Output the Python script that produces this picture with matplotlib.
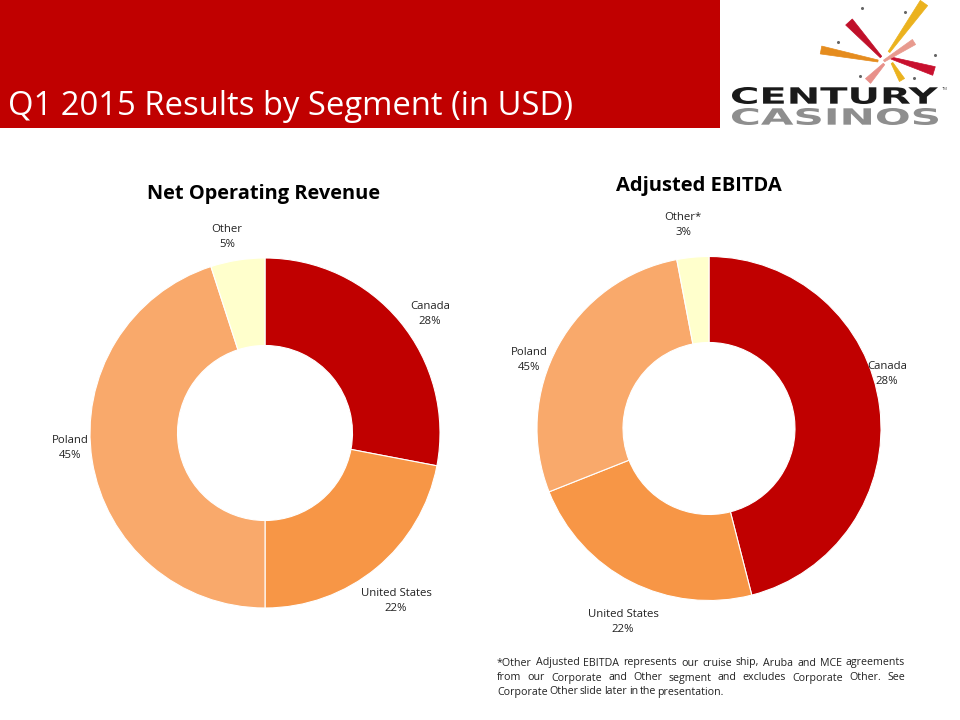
import numpy as np
import matplotlib
matplotlib.use("Agg")
import matplotlib.pyplot as plt
from matplotlib.patches import Rectangle, PathPatch, Polygon
from matplotlib.textpath import TextPath
from matplotlib.font_manager import FontProperties
from matplotlib.transforms import Affine2D

# =========================================================
# Data
# =========================================================
segments = ["Canada", "United States", "Poland", "Other"]
revenue_share = [28, 22, 45, 5]
# slice sizes as drawn on the slide
ebitda_share = [46, 23, 28, 3]
# percentages as printed on the EBITDA labels
ebitda_label_pct = [28, 22, 45, 3]

seg_colors = ["#C00000", "#F79646", "#F9A96B", "#FFFFCC"]

slide_title = "Q1 2015 Results by Segment (in USD)"
footnote_lines = [
    "*Other Adjusted EBITDA represents our cruise ship, Aruba and MCE agreements",
    "from our Corporate and Other segment and excludes Corporate Other. See",
    "Corporate Other slide later in the presentation.",
]

FONT = "Open Sans"
W, H = 960, 720

fig = plt.figure(figsize=(9.6, 7.2), dpi=100)
fig.patch.set_facecolor("white")
renderer = fig.canvas.get_renderer()

# background overlay in pixel coordinates
bg = fig.add_axes([0, 0, 1, 1])
bg.set_xlim(0, W)
bg.set_ylim(H, 0)
bg.axis("off")


def fx(x):
    return x / W


def fy(y):
    return 1 - y / H


def fit_width(t, target):
    w = t.get_window_extent(renderer).width
    t.set_fontsize(t.get_fontsize() * target / w)


def fit_path(ax, s, x0, x1, ytop, ybot, color, weight="bold"):
    tp = TextPath((0, 0), s, size=10, prop=FontProperties(family="DejaVu Sans", weight=weight))
    ext = tp.get_extents()
    sx = (x1 - x0) / ext.width
    sy = (ybot - ytop) / ext.height
    tr = Affine2D().translate(-ext.x0, -ext.y0).scale(sx, -sy).translate(x0, ybot)
    ax.add_patch(PathPatch(tr.transform_path(tp), facecolor=color, edgecolor="none"))


def brush(ax, p0, p1, w0, w1, color):
    # tapered stroke: wide at p0, narrow at p1
    p0, p1 = np.array(p0, float), np.array(p1, float)
    d = p1 - p0
    n = np.array([-d[1], d[0]]) / np.hypot(*d)
    pts = [p0 + n * w0 / 2, p1 + n * w1 / 2, p1 - n * w1 / 2, p0 - n * w0 / 2]
    ax.add_patch(Polygon(pts, closed=True, facecolor=color, edgecolor=color, lw=0.5))


# =========================================================
# Header bar + title
# =========================================================
bg.add_patch(Rectangle((0, 0), 720, 128, facecolor="#C00000", edgecolor="none"))
ht = fig.text(fx(8), fy(115), slide_title, color="white", fontsize=22,
              family=FONT, va="baseline", ha="left")
fit_width(ht, 564)

# =========================================================
# Logo (fireworks + wordmark)
# =========================================================
strokes = [
    ((849, 22), (881, 57), 9, 2, "#C0102A"),
    ((924, 3), (889, 52), 9, 2, "#EBB21E"),
    ((821, 50), (878, 61), 8, 2, "#E58C1E"),
    ((934, 71), (891, 58), 9, 2, "#C8102E"),
    ((914, 42), (884, 61), 6, 2, "#E89A8E"),
    ((868, 81), (884, 64), 7, 2, "#E8908A"),
    ((902, 80), (892, 63), 6, 2, "#EBB21E"),
]
for p0, p1, w0, w1, c in strokes:
    brush(bg, p0, p1, w0, w1, c)
for dx, dy in [(862, 8), (838, 42), (905, 12), (935, 55), (860, 76), (914, 78)]:
    bg.plot(dx, dy, "o", color="#666666", ms=1.2)
fit_path(bg, "CENTURY", 732, 938, 87, 104, "#1A1A1A")
fit_path(bg, "CASINOS", 732, 938, 108, 125, "#8E8E8E")
fig.text(fx(942), fy(89), "TM", fontsize=3, color="#444444", family=FONT, va="center")

# =========================================================
# Donuts
# =========================================================
def donut(cx, cy, r, values):
    ax = fig.add_axes([fx(cx - r), fy(cy + r), 2 * r / W, 2 * r / H])
    ax.pie(values, colors=seg_colors, startangle=90, counterclock=False, radius=1,
           wedgeprops=dict(width=0.5, edgecolor="white", linewidth=0.8))
    ax.set_xlim(-1, 1)
    ax.set_ylim(-1, 1)
    ax.set_aspect("equal")
    ax.axis("off")
    return ax


donut(265, 433, 175, revenue_share)
donut(709, 428.5, 172, ebitda_share)

t1 = fig.text(fx(264), fy(194), "Net Operating Revenue", fontsize=13, weight="bold",
              family=FONT, ha="center", va="center")
fit_width(t1, 232)
t2 = fig.text(fx(698.5), fy(186), "Adjusted EBITDA", fontsize=13, weight="bold",
              family=FONT, ha="center", va="center")
fit_width(t2, 165)

# data labels
rev_label_pos = [(430, 314), (396, 601), (70, 448), (227, 237)]
ebitda_label_pos = [(887, 374), (623, 622), (529, 360), (683, 225)]
rev_labels = [f"{s}\n{v}%" for s, v in zip(segments, revenue_share)]
ebitda_labels = [f"{s}\n{v}%" for s, v in zip(segments, ebitda_label_pct)]
ebitda_labels[3] = f"Other*\n{ebitda_label_pct[3]}%"

for labels, positions in [(rev_labels, rev_label_pos), (ebitda_labels, ebitda_label_pos)]:
    for lab, (x, y) in zip(labels, positions):
        fig.text(fx(x), fy(y), lab, fontsize=8.2, family=FONT, color="#222222",
                 ha="center", va="center", linespacing=1.4)

# =========================================================
# Footnote (justified)
# =========================================================
fn_x0, fn_x1 = 497, 905
fn_lines_y = [663, 678, 692]


def word_width(w, size):
    t = fig.text(0, 0, w, fontsize=size, family=FONT)
    wd = t.get_window_extent(renderer).width
    t.remove()
    return wd


# font size so that the first line fits the column with normal spacing
fn_size = 7.0 * 400 / word_width(footnote_lines[0], 7.0)
space = word_width("a b", fn_size) - word_width("ab", fn_size)

for i, line in enumerate(footnote_lines):
    ln = line.split()
    widths = [word_width(w, fn_size) for w in ln]
    if i < len(footnote_lines) - 1:
        gap = (fn_x1 - fn_x0 - sum(widths)) / (len(ln) - 1)
    else:
        gap = space * 0.6
    x = fn_x0
    for w, wd in zip(ln, widths):
        fig.text(fx(x), fy(fn_lines_y[i]), w, fontsize=fn_size, family=FONT,
                 color="#222222", va="center", ha="left")
        x += wd + gap

fig.savefig("out.png", dpi=100)
